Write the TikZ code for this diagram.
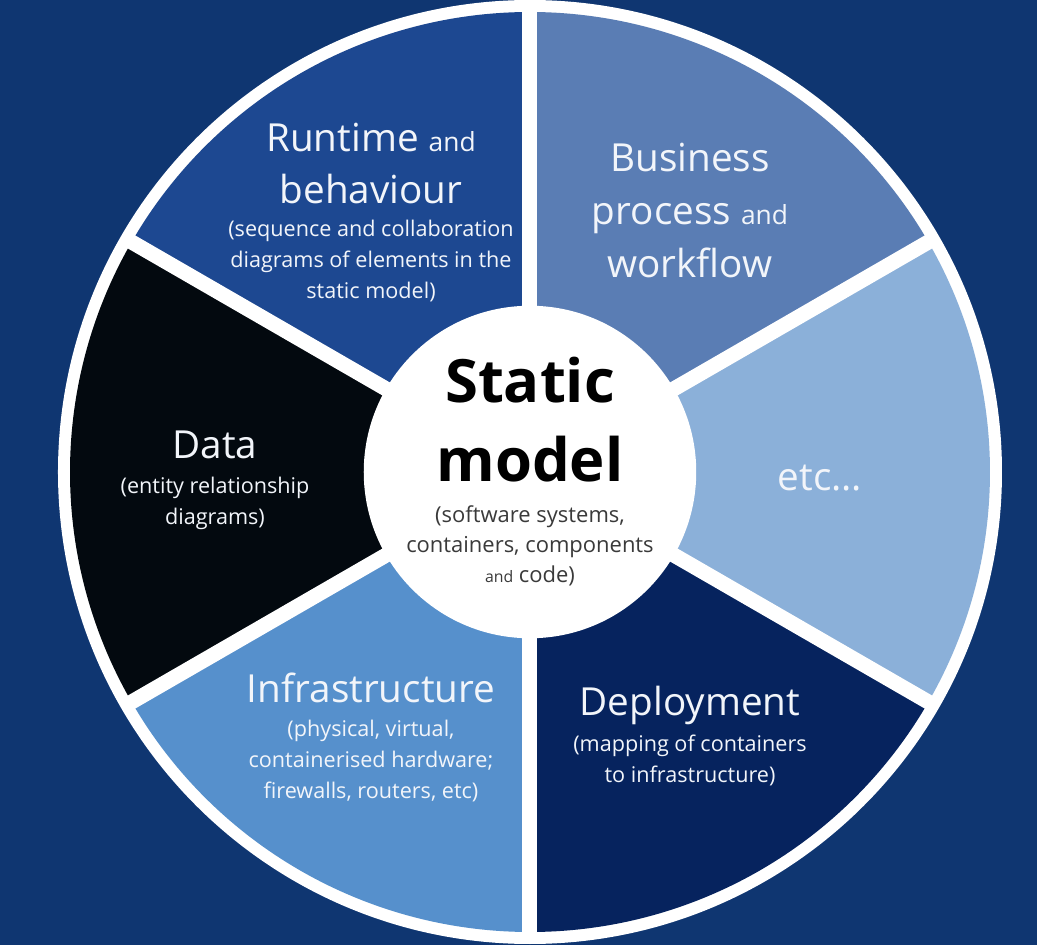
\documentclass[tikz,border=0pt]{standalone}
\usepackage{fontspec}
\setmainfont{Open Sans}
\usepackage{tikz}
\usetikzlibrary{positioning}
\definecolor{bgblue}{HTML}{0F3671}
\definecolor{runtimeblue}{HTML}{1D4891}
\definecolor{businessblue}{HTML}{5A7DB4}
\definecolor{etcblue}{HTML}{8BB0D9}
\definecolor{deploynavy}{HTML}{06235E}
\definecolor{infrablue}{HTML}{5690CC}
\definecolor{datablack}{HTML}{03090F}
\definecolor{labelwhite}{HTML}{F2F5FA}
\definecolor{subgrey}{HTML}{3A3A3A}

\begin{document}
\begin{tikzpicture}
  \tikzset{sector/.style={fill=#1},
    title/.style={text=labelwhite, align=center, font=\fontsize{22}{30}\selectfont, inner sep=0pt},
    subtitle/.style={text=labelwhite, align=center, font=\fontsize{12.3}{17.6}\selectfont, inner sep=0pt}}
  % background and outer ring
  \fill[bgblue] (-10.6,-9.46) rectangle (10.14,9.44);
  \useasboundingbox (-10.6,-9.46) rectangle (10.14,9.44);
  \fill[white] (0,0) circle (9.44);
  % the six sectors
  \fill[sector=businessblue] (0,0) -- (30:9.2) arc[start angle=30, end angle=90, radius=9.2] -- cycle;
  \fill[sector=runtimeblue] (0,0) -- (90:9.2) arc[start angle=90, end angle=150, radius=9.2] -- cycle;
  \fill[sector=datablack] (0,0) -- (150:9.2) arc[start angle=150, end angle=210, radius=9.2] -- cycle;
  \fill[sector=infrablue] (0,0) -- (210:9.2) arc[start angle=210, end angle=270, radius=9.2] -- cycle;
  \fill[sector=deploynavy] (0,0) -- (270:9.2) arc[start angle=270, end angle=330, radius=9.2] -- cycle;
  \fill[sector=etcblue] (0,0) -- (330:9.2) arc[start angle=330, end angle=390, radius=9.2] -- cycle;
  \foreach \a in {30,90,...,330}
    \draw[white, line width=0.3cm] (0,0) -- (\a:9.3);
  % centre
  \node[circle, fill=white, minimum size=6.65cm] (core) at (0,0) {};
  \node[align=center, inner sep=0pt, font=\bfseries\fontsize{34}{45}\selectfont] (static) at (0,1.04) {Static\\model};
  \node[align=center, inner sep=0pt, text=subgrey, font=\fontsize{12.5}{17}\selectfont] (staticsub) at (0,-1.48)
    {(software systems,\\containers, components\\{\fontsize{9}{9}\selectfont and} code)};
  % sector labels
  \node[title] (runtime) at (-3.18,6.17) {Runtime {\fontsize{15}{15}\selectfont and}\\behaviour};
  \node[subtitle] (runtimesub) at (-3.18,4.22) {(sequence and collaboration\\diagrams of elements in the\\static model)};
  \node[title] (business) at (3.2,5.23) {Business\\process {\fontsize{15}{15}\selectfont and}\\workflow};
  \node[title] (etc) at (5.8,-0.12) {etc...};
  \node[title] (data) at (-6.3,0.54) {Data};
  \node[subtitle] (datasub) at (-6.3,-0.63) {(entity relationship\\diagrams)};
  \node[title] (infra) at (-3.18,-4.32) {Infrastructure};
  \node[subtitle] (infrasub) at (-3.18,-5.78) {(physical, virtual,\\containerised hardware;\\firewalls, routers, etc)};
  \node[title] (deploy) at (3.2,-4.66) {Deployment};
  \node[subtitle] (deploysub) at (3.2,-5.77) {(mapping of containers\\to infrastructure)};
\end{tikzpicture}
\end{document}
